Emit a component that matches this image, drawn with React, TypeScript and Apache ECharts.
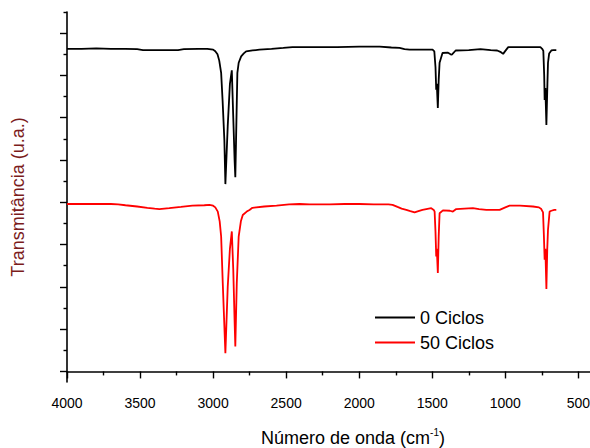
import React, { useEffect, useRef } from "react";
import * as echarts from "echarts";

// Wavenumber (cm-1) vs transmittance (a.u., offset traces)
const spectrum0Ciclos: [number, number][] = [
  [4000, 7.63], [3900, 7.63], [3800, 7.64], [3700, 7.63], [3600, 7.63], [3520, 7.62],
  [3480, 7.6], [3400, 7.6], [3300, 7.6], [3240, 7.6], [3200, 7.62], [3100, 7.63],
  [3040, 7.63], [3000, 7.61], [2985, 7.57], [2970, 7.5], [2958, 7.35], [2945, 7.06],
  [2935, 6.4], [2923, 5.47], [2916, 4.43], [2900, 5.8], [2885, 6.8], [2872, 7.12],
  [2862, 6.0], [2853, 5.0], [2848, 4.59], [2843, 5.47], [2834, 7.06], [2825, 7.3],
  [2808, 7.45], [2790, 7.52], [2774, 7.57], [2730, 7.59], [2683, 7.61], [2600, 7.63],
  [2520, 7.65], [2457, 7.67], [2350, 7.67], [2272, 7.67], [2150, 7.67], [2000, 7.68],
  [1900, 7.68], [1860, 7.68], [1780, 7.66], [1724, 7.65], [1690, 7.62], [1656, 7.61],
  [1580, 7.61], [1498, 7.61], [1486, 7.57], [1478, 7.2], [1473, 6.66], [1469, 6.8],
  [1462, 6.23], [1456, 6.9], [1450, 7.3], [1430, 7.53], [1395, 7.54], [1375, 7.5],
  [1366, 7.49], [1340, 7.59], [1250, 7.6], [1170, 7.62], [1100, 7.6], [1056, 7.59],
  [1030, 7.55], [1015, 7.51], [1000, 7.58], [980, 7.67], [900, 7.67], [800, 7.67],
  [760, 7.67], [748, 7.63], [740, 7.58], [734, 7.0], [731, 6.42], [726, 6.7],
  [719, 5.83], [712, 6.8], [708, 7.3], [700, 7.52], [685, 7.59], [670, 7.6], [651, 7.6],
];

const spectrum50Ciclos: [number, number][] = [
  [4000, 3.96], [3900, 3.96], [3800, 3.96], [3700, 3.96], [3650, 3.95], [3600, 3.93],
  [3520, 3.9], [3450, 3.87], [3400, 3.85], [3368, 3.84], [3300, 3.86], [3220, 3.89],
  [3142, 3.92], [3060, 3.93], [3025, 3.94], [3000, 3.92], [2985, 3.88], [2968, 3.78],
  [2955, 3.55], [2945, 3.19], [2934, 2.09], [2916, 0.43], [2900, 2.0], [2885, 2.9],
  [2872, 3.31], [2862, 2.4], [2853, 1.2], [2848, 0.59], [2838, 2.09], [2825, 3.19],
  [2810, 3.55], [2797, 3.7], [2770, 3.78], [2751, 3.82], [2731, 3.87], [2650, 3.9],
  [2566, 3.92], [2480, 3.95], [2409, 3.96], [2340, 3.95], [2272, 3.95], [2200, 3.95],
  [2100, 3.96], [2000, 3.96], [1900, 3.95], [1800, 3.95], [1772, 3.94], [1738, 3.89],
  [1710, 3.85], [1678, 3.82], [1650, 3.79], [1621, 3.76], [1595, 3.79], [1567, 3.82],
  [1507, 3.86], [1490, 3.82], [1484, 3.78], [1478, 3.3], [1473, 2.72], [1469, 2.9],
  [1462, 2.33], [1456, 3.2], [1450, 3.74], [1427, 3.81], [1380, 3.8], [1359, 3.78],
  [1336, 3.84], [1280, 3.85], [1222, 3.86], [1180, 3.84], [1130, 3.82], [1080, 3.82],
  [1039, 3.82], [1000, 3.88], [971, 3.92], [900, 3.92], [811, 3.9], [770, 3.88],
  [754, 3.84], [742, 3.76], [736, 3.2], [731, 2.64], [726, 2.9], [719, 1.95],
  [713, 2.9], [708, 3.35], [697, 3.78], [685, 3.8], [665, 3.82], [651, 3.82],
];

const seriesNames = ["0 Ciclos", "50 Ciclos"];
const xMajorTicks = [500, 1000, 1500, 2000, 2500, 3000, 3500, 4000];
const xMinorTicks = [750, 1250, 1750, 2250, 2750, 3250, 3750];
const yMajorTicks = [0, 1, 2, 3, 4, 5, 6, 7, 8];
const yMinorTicks = [0.5, 1.5, 2.5, 3.5, 4.5, 5.5, 6.5, 7.5, 8.5];

const FONT = "'Liberation Sans', Arial, sans-serif";

export default function App() {
  const ref = useRef<HTMLDivElement>(null);

  useEffect(() => {
    if (!ref.current) return;
    const chart = echarts.init(ref.current, undefined, { renderer: "svg" });
    const axisLine = { show: true, lineStyle: { color: "#000", width: 1.6 } };
    const xCommon = {
      type: "value" as const,
      min: 400,
      max: 4000,
      inverse: true,
      position: "bottom" as const,
      splitLine: { show: false },
    };
    const yCommon = {
      type: "value" as const,
      min: -0.25,
      max: 8.5,
      position: "left" as const,
      splitLine: { show: false },
    };
    chart.setOption({
      animation: false,
      backgroundColor: "#fff",
      textStyle: { fontFamily: FONT },
      grid: { left: 67, right: -3, top: 12, bottom: 66, containLabel: false, outerBoundsMode: "none" },
      legend: {
        data: seriesNames,
        orient: "vertical",
        left: 375,
        top: 308,
        padding: 0,
        icon: "rect",
        itemWidth: 40,
        itemHeight: 2,
        itemGap: 6,
        textStyle: { fontSize: 18, color: "#000", fontFamily: FONT, lineHeight: 19 },
      },
      xAxis: [
        {
          ...xCommon,
          axisLine,
          axisTick: { show: true, length: 7, customValues: xMajorTicks, lineStyle: { color: "#000", width: 1.4 } },
          axisLabel: {
            show: true,
            customValues: xMajorTicks,
            fontSize: 14,
            color: "#000",
            margin: 14,
            fontFamily: FONT,
            formatter: (v: number) => String(v),
          },
          name: "{a|Número de onda (cm}{s|-1}{a|)}",
          nameLocation: "middle",
          nameGap: 45,
          nameTextStyle: {
            padding: [0, 0, 0, 46],
            rich: {
              a: { fontSize: 18, color: "#000", fontFamily: FONT, lineHeight: 21 },
              s: { fontSize: 10, color: "#000", fontFamily: FONT, verticalAlign: "top", lineHeight: 21, padding: [0, 0, 10, 0] },
            },
          },
        },
        {
          ...xCommon,
          axisLine: { show: false },
          axisTick: { show: true, length: 4, customValues: xMinorTicks, lineStyle: { color: "#000", width: 1.4 } },
          axisLabel: { show: false, customValues: xMinorTicks },
        },
      ],
      yAxis: [
        {
          ...yCommon,
          axisLine,
          axisTick: { show: true, length: 7, customValues: yMajorTicks, lineStyle: { color: "#000", width: 1.4 } },
          axisLabel: { show: false, customValues: yMajorTicks },
          name: "Transmitância (u.a.)",
          nameLocation: "middle",
          nameGap: 40,
          nameRotate: 90,
          nameTextStyle: { fontSize: 18, color: "#7b1c1c", fontFamily: FONT },
        },
        {
          ...yCommon,
          axisLine: { show: false },
          axisTick: { show: true, length: 3.5, customValues: yMinorTicks, lineStyle: { color: "#000", width: 1.4 } },
          axisLabel: { show: false, customValues: yMinorTicks },
        },
      ],
      series: [
        {
          name: seriesNames[0],
          type: "line",
          data: spectrum0Ciclos,
          symbol: "none",
          lineStyle: { color: "#000", width: 1.8 },
          itemStyle: { color: "#000" },
          xAxisIndex: 0,
          yAxisIndex: 0,
        },
        {
          name: seriesNames[1],
          type: "line",
          data: spectrum50Ciclos,
          symbol: "none",
          lineStyle: { color: "#ff0000", width: 1.8 },
          itemStyle: { color: "#ff0000" },
          xAxisIndex: 0,
          yAxisIndex: 0,
        },
      ],
    });
    return () => chart.dispose();
  }, []);

  return (
    <div
      ref={ref}
      style={{ position: "absolute", left: 0, top: 0, width: 590, height: 448, background: "#fff" }}
    />
  );
}
